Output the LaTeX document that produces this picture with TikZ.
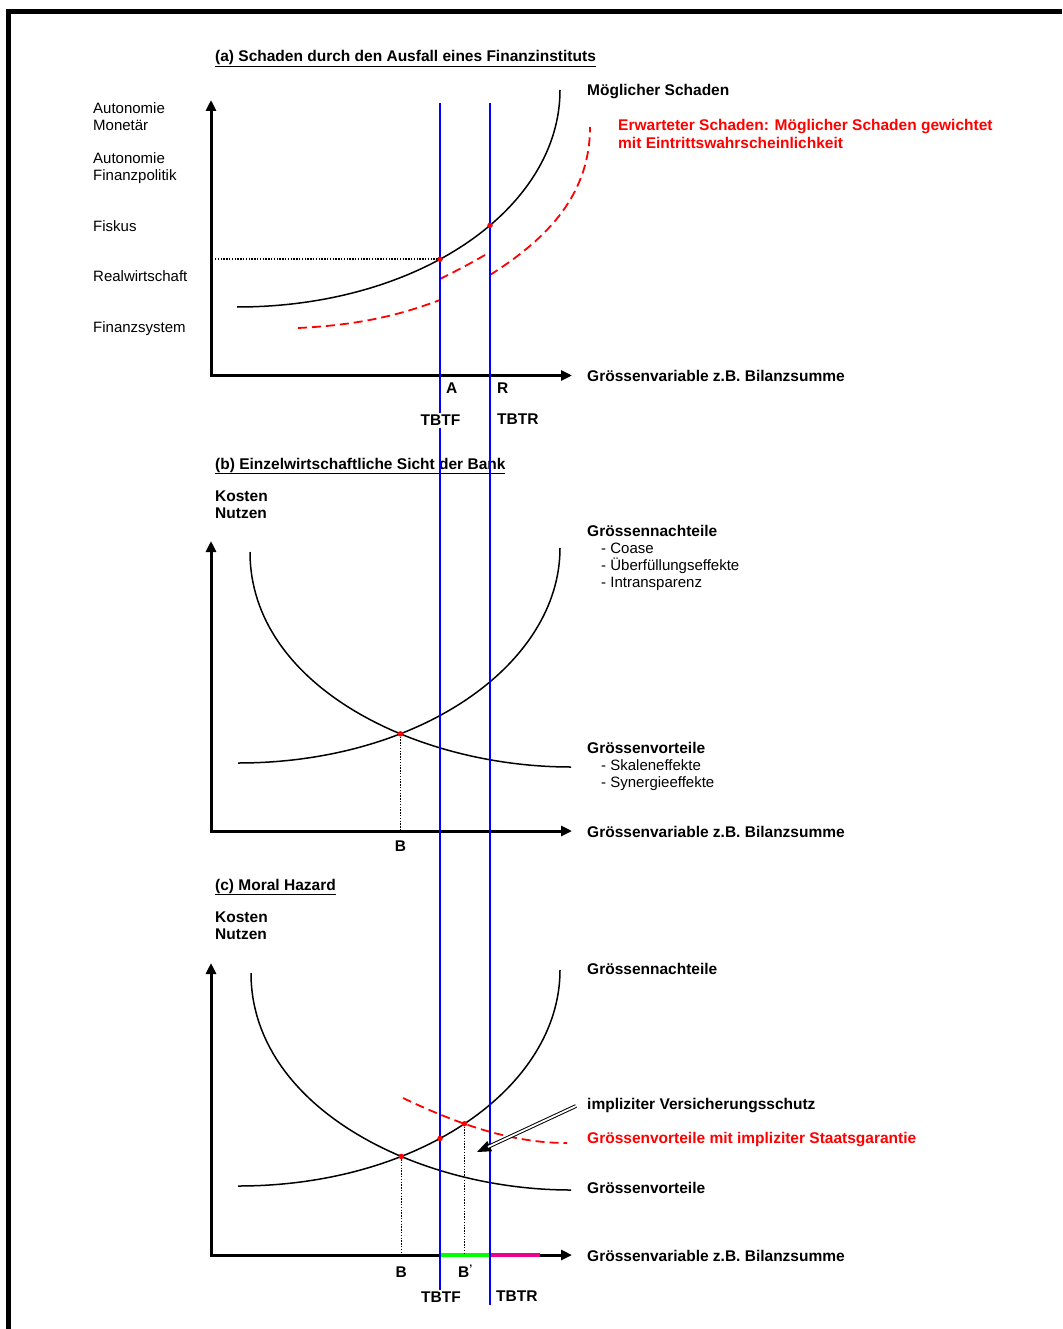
\documentclass[tikz,border=0pt]{standalone}
\usepackage{fontspec}
\setmainfont{Liberation Sans}
\usetikzlibrary{arrows.meta,intersections}

\begin{document}
\begin{tikzpicture}[x=1pt,y=-1pt,
    lab/.style={font=\fontsize{15.5}{17}\selectfont\bfseries,inner sep=0pt,anchor=base west},
    multi/.style={font=\fontsize{15.5}{17}\selectfont\bfseries,inner sep=0pt,anchor=west,align=left},
    txt/.style={font=\fontsize{15}{17}\selectfont,inner sep=0pt,anchor=west,align=left},
    axis/.style={line width=3pt,{Triangle[length=11pt,width=10pt]}-{Triangle[length=11pt,width=10pt]}},
    curve/.style={line width=1.5pt},
    guide/.style={blue,line width=1.6pt},
    expected/.style={red,line width=1.8pt,dash pattern=on 9pt off 5pt},
    helper/.style={line width=1.5pt,dash pattern=on 1.4pt off 1.4pt},
    hit/.style={circle,fill=red,inner sep=0pt,minimum size=5.5pt},
    zone/.style={line width=4.5pt},
    cut/.style={lab,anchor=base,fill=white,inner sep=2pt}]
  \useasboundingbox (0,0) rectangle (1062,1329);
  \draw[line width=5pt] (8.5,1329) -- (8.5,11.5) -- (1062,11.5);

  % (a) damage
  \node[lab] (ta) at (215,62) {\underline{(a) Schaden durch den Ausfall eines Finanzinstituts}};
  \node[txt] (mon) at (93,116.5) {Autonomie\\Monetär};
  \node[txt] (finpol) at (93,168.5) {Autonomie\\Finanzpolitik};
  \node[txt,anchor=base west] (fiskus) at (93,231.5) {Fiskus};
  \node[txt,anchor=base west] (real) at (93,281.5) {Realwirtschaft};
  \node[txt,anchor=base west] (finsys) at (93,332.5) {Finanzsystem};
  \node[lab] (moeg) at (587,95.5) {Möglicher Schaden};
  \node[multi,red,font=\fontsize{15.5}{18}\selectfont\bfseries] (erw) at (618,133.5)
    {Erwarteter Schaden: Möglicher Schaden gewichtet\\mit Eintrittswahrscheinlichkeit};
  \node[lab] (gva) at (587,381.5) {Grössenvariable z.B. Bilanzsumme};
  \node[lab] (A) at (446,393.5) {A};
  \node[lab] (R) at (497,393.5) {R};
  \coordinate (ya) at (211,100);
  \coordinate (oa) at (211,375.5);
  \coordinate (xa) at (572,375.5);
  \draw[axis] (ya) -- (oa) -- (xa);
  \draw[curve,name path=damage] (237,307) .. controls (420,307) and (560,208) .. (560,90);
  \draw[expected] (298,328) .. controls (360,325) and (400,315) .. (440,300);
  \draw[expected] (440,279) .. controls (460,269) and (475,261) .. (490,252);
  \draw[expected] (490,275) .. controls (540,243) and (590,200) .. (590,127);

  % (b) bank view
  \node[lab] (tb) at (215,469) {\underline{(b) Einzelwirtschaftliche Sicht der Bank}};
  \node[multi] (kn b) at (215,504.5) {Kosten\\Nutzen};
  \node[lab] (nach b) at (587,536.5) {Grössennachteile};
  \node[txt] (nach list) at (601,567) {- Coase\\- Überfüllungseffekte\\- Intransparenz};
  \node[lab] (vor b) at (587,753.5) {Grössenvorteile};
  \node[txt] (vor list) at (601,775.5) {- Skaleneffekte\\- Synergieeffekte};
  \node[lab] (gvb) at (587,837.5) {Grössenvariable z.B. Bilanzsumme};
  \coordinate (yb) at (211,541);
  \coordinate (ob) at (211,831);
  \coordinate (xb) at (572,831);
  \draw[axis] (yb) -- (ob) -- (xb);
  \draw[curve,name path=rise b] (238,763) .. controls (420,763) and (560,664) .. (560,548);
  \draw[curve,name path=fall b] (250,552) .. controls (250,685) and (415,767) .. (571,767);

  % (c) moral hazard
  \node[lab] (tc) at (215,890) {\underline{(c) Moral Hazard}};
  \node[multi] (kn c) at (215,926) {Kosten\\Nutzen};
  \node[lab] (nach c) at (587,974.5) {Grössennachteile};
  \node[lab] (vers) at (587,1109.5) {impliziter Versicherungsschutz};
  \node[lab,red] (staat) at (587,1143.5) {Grössenvorteile mit impliziter Staatsgarantie};
  \node[lab] (vor c) at (587,1193.5) {Grössenvorteile};
  \node[lab] (gvc) at (587,1261.5) {Grössenvariable z.B. Bilanzsumme};
  \coordinate (yc) at (211,963);
  \coordinate (oc) at (211,1255);
  \coordinate (xc) at (572,1255);
  \draw[axis] (yc) -- (oc) -- (xc);
  \draw[curve,name path=rise c] (238,1186) .. controls (420,1186) and (560,1087) .. (560,970);
  \draw[curve,name path=fall c] (251,973) .. controls (251,1106) and (415,1190) .. (571,1190);
  \draw[expected,name path=garantie] (403,1098) .. controls (470,1130) and (520,1143) .. (567,1143);
  \draw[zone,green] (440,1255) -- (490,1255);
  \draw[zone,magenta] (490,1255) -- (540,1255);

  % thresholds
  \draw[guide,name path=tbtf] (440,103) -- (440,1305);
  \draw[guide,name path=tbtr] (490,103) -- (490,1305);

  \path[name intersections={of=damage and tbtf,by=a1}];
  \path[name intersections={of=damage and tbtr,by=a2}];
  \path[name intersections={of=rise b and fall b,by=b1}];
  \path[name intersections={of=rise c and fall c,by=c1}];
  \path[name intersections={of=rise c and tbtf,by=c2}];
  \path[name intersections={of=rise c and garantie,by=c3}];
  \coordinate (dstart) at (215,0);
  \draw[helper] (a1 -| dstart) -- (a1);
  \draw[helper] (b1) -- (b1 |- ob);
  \draw[helper] (c1) -- (c1 |- oc);
  \draw[helper] (c3) -- (c3 |- oc);
  \foreach \p in {a1,a2,b1,c1,c2,c3}
    \node[hit] at (\p) {};

  \node[lab,anchor=base] (B b) at (b1 |- 0,851.5) {B};
  \node[lab,anchor=base] (B c) at (c1 |- 0,1277.5) {B};
  \node[lab] (B' c) at (458,1277.5) {B\textsuperscript{'}};
  \node[cut] (tbtf a) at (440.5,425.5) {TBTF};
  \node[lab] (tbtr a) at (497,424.5) {TBTR};
  \node[cut] (tbtf c) at (441,1302.5) {TBTF};
  \node[lab] (tbtr c) at (496,1301.5) {TBTR};

  \coordinate (vtail) at (576,1106);
  \coordinate (vtip) at (477,1152);
  \draw[line width=1pt,-{Triangle[length=14pt,width=11pt]}] (vtail) -- (vtip);
  \draw[double,double distance=1.8pt,line width=1pt,shorten >=12pt] (vtail) -- (vtip);
\end{tikzpicture}
\end{document}
